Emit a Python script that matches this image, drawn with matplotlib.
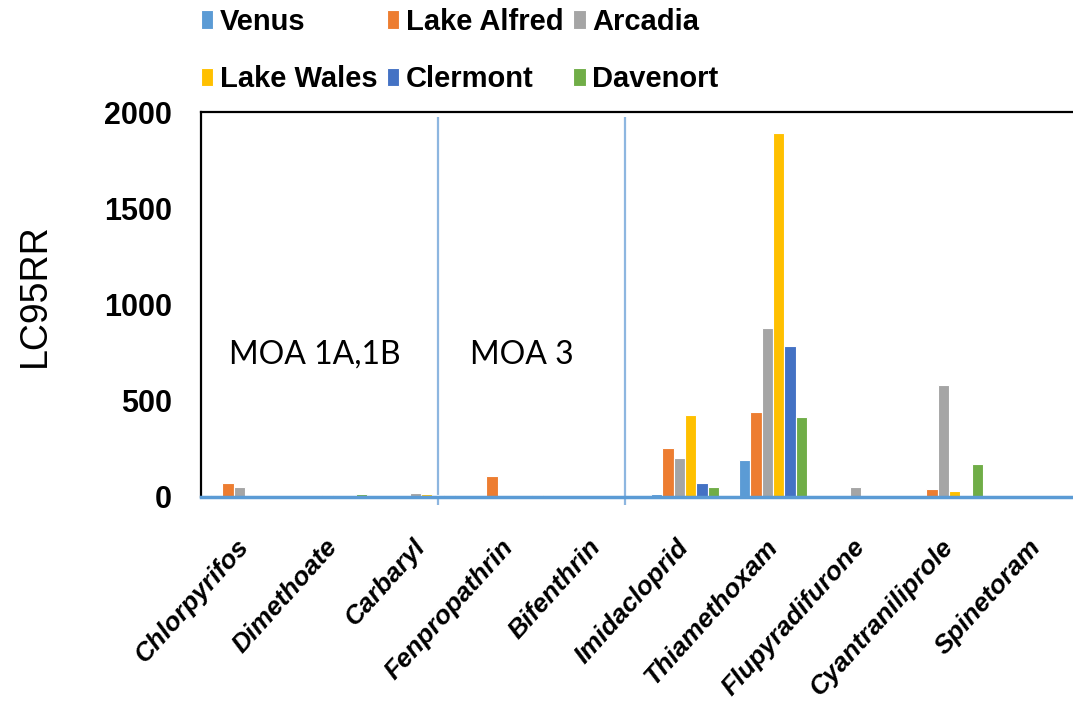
import matplotlib
matplotlib.use("Agg")
import matplotlib.pyplot as plt
import numpy as np

# Insecticides tested and the resistance ratio (LC95RR) for each population
insecticides = ["Chlorpyrifos", "Dimethoate", "Carbaryl", "Fenpropathrin", "Bifenthrin",
                "Imidacloprid", "Thiamethoxam", "Flupyradifurone", "Cyantraniliprole", "Spinetoram"]

venus       = [12, 0, 0, 0, 0, 14, 190, 0, 5, 0]
lake_alfred = [74, 7, 7, 110, 0, 254, 442, 0, 40, 0]
arcadia     = [52, 12, 21, 0, 0, 204, 880, 50, 580, 0]
lake_wales  = [0, 0, 14, 0, 0, 424, 1891, 0, 31, 0]
clermont    = [0, 0, 8, 0, 0, 73, 787, 0, 0, 0]
davenort    = [0, 16, 8, 10, 0, 52, 415, 0, 170, 0]

populations = ["Venus", "Lake Alfred", "Arcadia", "Lake Wales", "Clermont", "Davenort"]
series = [venus, lake_alfred, arcadia, lake_wales, clermont, davenort]
colors = ["#5B9BD5", "#ED7D31", "#A5A5A5", "#FFC000", "#4472C4", "#70AD47"]

# mode-of-action group labels and the dividers between groups
moa_labels = ["MOA 1A,1B", "MOA 3"]
moa_label_x = [0.1295, 0.365]
dividers = [2.193, 4.318]

plt.rcParams["font.family"] = ["Liberation Sans", "DejaVu Sans"]

fig = plt.figure(figsize=(10.73, 7.21), dpi=100)
ax = fig.add_axes([201 / 1073, 1 - 497 / 721, 880 / 1073, 385 / 721])

x = np.arange(len(insecticides))
n = len(series)
group_w = 68 / 88
bw = group_w / n
handles = []
for i, (vals, col, name) in enumerate(zip(series, colors, populations)):
    offs = -group_w / 2 + bw * (i + 0.5)
    b = ax.bar(x + offs, vals, width=bw, color=col, edgecolor="white",
               linewidth=0.8, label=name, zorder=2)
    handles.append(b)

ax.set_xlim(-0.5, len(insecticides) - 0.5)
ax.set_ylim(0, 2000)
ax.set_yticks([0, 500, 1000, 1500, 2000])
ax.tick_params(axis="y", length=0, pad=21, labelsize=22)
for lab in ax.get_yticklabels():
    lab.set_fontweight("bold")

ax.set_xticks(x)
ax.set_xticklabels(insecticides, rotation=48, ha="right", va="center",
                   rotation_mode="anchor", fontsize=19, fontweight="bold",
                   fontstyle="italic")
ax.tick_params(axis="x", length=0, pad=33)

for side in ["left", "top"]:
    ax.spines[side].set_color("black")
    ax.spines[side].set_linewidth(1.6)
ax.spines["right"].set_visible(False)
ax.spines["bottom"].set_color("#5B9BD5")
ax.spines["bottom"].set_linewidth(2.5)
ax.spines["bottom"].set_zorder(3)

ax.set_ylabel("LC95RR", fontsize=27)
ax.yaxis.set_label_coords(-0.168, 0.525)

for xd in dividers:
    ax.vlines(xd, -40, 1975, color="#8DB6E0", linewidth=1.6, clip_on=False, zorder=1)

for lab, lx in zip(moa_labels, moa_label_x):
    ax.text(lx, 0.369, lab, transform=ax.transAxes, ha="center", va="center",
            fontsize=23, family=["Lato", "DejaVu Sans"])

# legend laid out row by row (matplotlib fills columns first)
order = [0, 3, 1, 4, 2, 5]
leg = fig.legend([handles[k] for k in order], [populations[k] for k in order],
                 ncol=3, loc="upper left", bbox_to_anchor=(198 / 1073, 1 - 5 / 721),
                 frameon=False, prop={"weight": "bold", "size": 21},
                 handlelength=0.42, handleheight=0.6, handletextpad=0.22,
                 columnspacing=0.34, labelspacing=1.0, borderaxespad=0.0,
                 borderpad=0.1)

fig.savefig("out.png", dpi=100)
